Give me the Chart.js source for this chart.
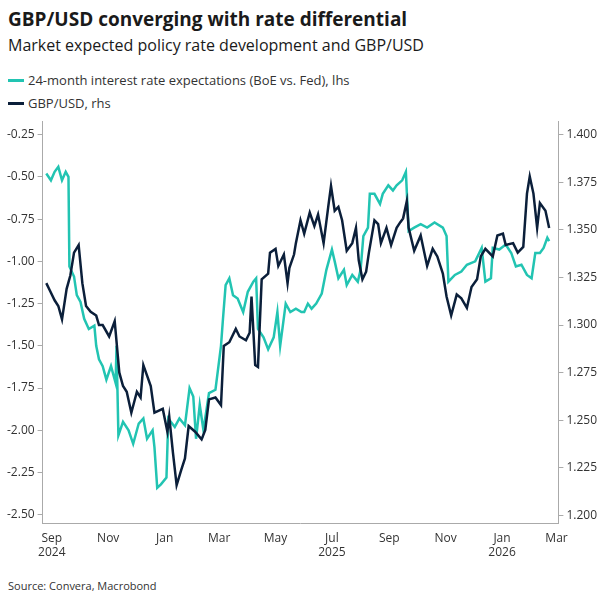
<!DOCTYPE html>
<html><head><meta charset="utf-8">
<script src="https://cdn.jsdelivr.net/npm/chart.js@4"></script>
<style>
body{margin:0;width:606px;height:606px;background:#fff;font-family:"Open Sans",sans-serif;position:relative;overflow:hidden}
.t{position:absolute;left:8px;top:6px;font-size:19px;font-weight:700;color:#1a1a1a}
.s{position:absolute;left:8px;top:34px;font-size:16px;color:#1a1a1a}
.lg{position:absolute;left:8px;font-size:13px;color:#333;display:flex;align-items:center}
.lg i{display:inline-block;width:16px;height:3px;margin-right:4px}
.src{position:absolute;left:8px;top:578px;font-size:11px;color:#333}
#w{position:absolute;left:0;top:111px;width:606px;height:452px}
</style></head><body>
<div class="t">GBP/USD converging with rate differential</div>
<div class="s">Market expected policy rate development and GBP/USD</div>
<div class="lg" style="top:71px"><i style="background:#22c4b2"></i>24-month interest rate expectations (BoE vs. Fed), lhs</div>
<div class="lg" style="top:94px"><i style="background:#0b1f3a"></i>GBP/USD, rhs</div>
<div id="w"><canvas id="c"></canvas></div>
<div class="src">Source: Convera, Macrobond</div>
<script>
// days since 2024-09-01
const rateDays=[-6,-1,3,7,11,15,18,19,24,27,31,35,40,46,48,51,55,59,64,69,70,72,77,83,88,94,99,103,109,111,114,118,124,126,133,138,144,149,153,156,160,164,170,177,183,185,188,192,196,201,207,212,218,221,223,229,234,240,244,247,253,258,264,270,273,277,281,286,292,297,303,306,310,316,319,325,331,334,337,342,344,349,355,358,364,369,373,379,383,386,392,399,406,414,423,427,429,436,443,449,458,465,469,475,477,484,491,497,502,508,514,519,523,528,532,536,538];
const rateVals=[-0.48,-0.52,-0.47,-0.44,-0.52,-0.47,-0.5,-1.03,-1.09,-1.2,-1.24,-1.34,-1.4,-1.38,-1.5,-1.58,-1.62,-1.7,-1.62,-1.72,-1.5,-2.03,-1.95,-2.0,-2.08,-1.96,-1.93,-2.05,-2.0,-2.1,-2.34,-2.32,-2.28,-1.93,-1.98,-1.93,-1.97,-1.75,-1.8,-2.05,-1.85,-2.0,-1.78,-1.76,-1.5,-1.35,-1.14,-1.1,-1.2,-1.22,-1.3,-1.18,-1.12,-1.1,-1.4,-1.45,-1.52,-1.45,-1.3,-1.5,-1.25,-1.3,-1.28,-1.3,-1.3,-1.25,-1.28,-1.25,-1.19,-1.05,-0.93,-1.0,-1.1,-1.05,-1.14,-1.08,-1.12,-1.05,-0.85,-0.8,-0.6,-0.6,-0.66,-0.6,-0.55,-0.58,-0.55,-0.52,-0.47,-0.82,-0.8,-0.78,-0.8,-0.77,-0.8,-0.85,-1.12,-1.08,-1.06,-1.02,-1.0,-0.92,-1.12,-1.1,-0.92,-0.93,-0.9,-0.95,-1.03,-1.02,-1.08,-1.1,-0.95,-0.95,-0.92,-0.86,-0.88];
const fxDays=[-6,-2,3,7,11,16,20,24,29,33,37,42,48,51,55,62,68,73,77,81,86,92,96,99,107,111,120,125,127,131,135,140,144,148,155,162,166,170,177,183,186,192,199,203,210,214,216,220,223,227,234,236,242,245,251,255,257,262,264,269,273,279,284,288,294,299,302,306,310,314,319,325,329,332,336,340,343,349,353,356,362,367,373,377,380,384,386,392,399,406,412,417,423,427,432,438,443,449,454,460,464,469,477,482,488,491,499,504,510,514,517,521,525,528,534,538];
const fxVals=[1.322,1.318,1.313,1.31,1.303,1.319,1.326,1.338,1.342,1.322,1.31,1.307,1.305,1.3,1.3,1.294,1.302,1.275,1.268,1.265,1.254,1.265,1.262,1.279,1.268,1.254,1.256,1.244,1.252,1.233,1.216,1.224,1.23,1.247,1.244,1.24,1.245,1.261,1.262,1.258,1.289,1.291,1.298,1.294,1.292,1.296,1.315,1.279,1.278,1.324,1.327,1.338,1.34,1.331,1.337,1.322,1.33,1.337,1.343,1.355,1.348,1.359,1.352,1.358,1.343,1.362,1.373,1.36,1.362,1.355,1.339,1.343,1.351,1.334,1.324,1.328,1.338,1.355,1.353,1.343,1.351,1.342,1.351,1.354,1.356,1.365,1.351,1.339,1.347,1.331,1.34,1.336,1.327,1.315,1.305,1.316,1.314,1.309,1.32,1.324,1.336,1.34,1.336,1.347,1.348,1.342,1.343,1.338,1.341,1.369,1.378,1.369,1.351,1.364,1.36,1.351];
const monthDays=[0,30,61,91,122,153,181,212,242,273,303,334,365,395,426,456,487,518,546];
const monthLabels=[['Sep','2024'],'',['Nov'],'',['Jan'],'',['Mar'],'',['May'],'',['Jul','2025'],'',['Sep'],'',['Nov'],'',['Jan','2026'],'',['Mar']];
const leftTicks=[-0.25,-0.5,-0.75,-1.0,-1.25,-1.5,-1.75,-2.0,-2.25,-2.5];
const rightTicks=[1.4,1.375,1.35,1.325,1.3,1.275,1.25,1.225,1.2];

const pts=(d,v)=>d.map((x,i)=>({x,y:v[i]}));
const tc='#333', ax='#aaa';
new Chart(document.getElementById('c'),{
 type:'line',
 data:{datasets:[
  {data:pts(fxDays,fxVals),borderColor:'#0b1f3a',borderWidth:2.5,pointRadius:0,yAxisID:'y1',tension:0},
  {data:pts(rateDays,rateVals),borderColor:'#22c4b2',borderWidth:2.5,pointRadius:0,yAxisID:'y',tension:0}
 ]},
 options:{responsive:true,maintainAspectRatio:false,animation:false,
  layout:{padding:{left:4,right:6,top:0,bottom:0}},
  plugins:{legend:{display:false},tooltip:{enabled:false}},
  scales:{
   x:{type:'linear',min:-10,max:548,
     afterBuildTicks:s=>{s.ticks=monthDays.map(v=>({value:v}));},
     ticks:{autoSkip:false,maxRotation:0,color:tc,font:{size:12,family:'Open Sans'},
       callback:(v,i)=>monthLabels[i]},
     grid:{display:false,drawOnChartArea:false,tickLength:5,color:ax},border:{color:ax}},
   y:{position:'left',min:-2.55,max:-0.17,
     afterBuildTicks:s=>{s.ticks=leftTicks.map(v=>({value:v}));},
     ticks:{color:tc,font:{size:12,family:'Open Sans'},callback:v=>v.toFixed(2)},
     grid:{drawOnChartArea:false,tickLength:5,color:ax},border:{color:ax}},
   y1:{position:'right',min:1.196,max:1.407,
     afterBuildTicks:s=>{s.ticks=rightTicks.map(v=>({value:v}));},
     ticks:{color:tc,font:{size:12,family:'Open Sans'},callback:v=>v.toFixed(3)},
     grid:{drawOnChartArea:false,tickLength:5,color:ax},border:{color:ax}}
  }}
});
</script></body></html>
